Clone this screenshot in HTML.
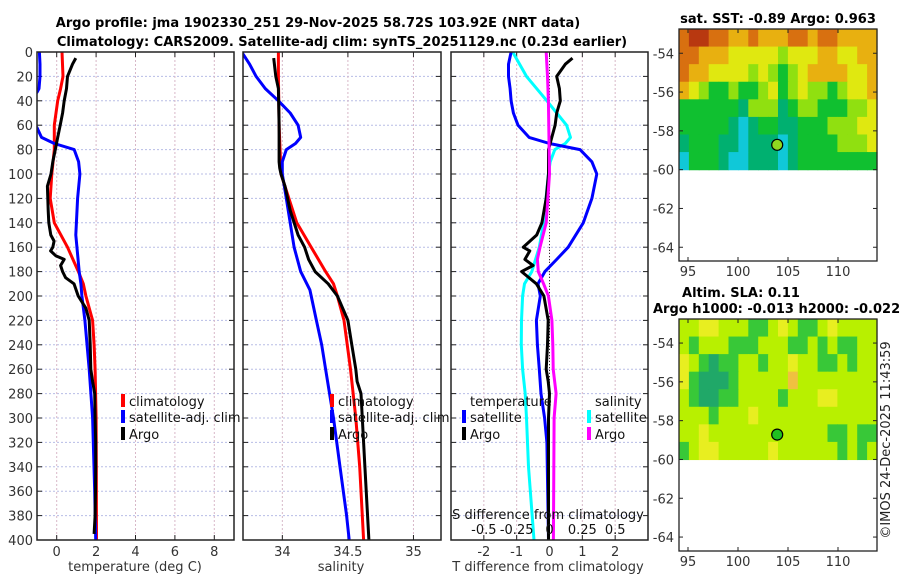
<!DOCTYPE html>
<html><head><meta charset="utf-8">
<style>
html,body{margin:0;padding:0;background:#fff;}
svg{display:block;font-family:"DejaVu Sans","Liberation Sans",sans-serif;}
</style></head>
<body>
<svg id="fig" width="900" height="580" viewBox="0 0 900 580" xmlns="http://www.w3.org/2000/svg">
<text x="318" y="27" text-anchor="middle" font-size="13" font-weight="bold">Argo profile: jma 1902330_251 29-Nov-2025 58.72S 103.92E (NRT data)</text>
<text x="342" y="46" text-anchor="middle" font-size="13" font-weight="bold">Climatology: CARS2009. Satellite-adj clim: synTS_20251129.nc (0.23d earlier)</text>
<text x="778" y="23" text-anchor="middle" font-size="13" font-weight="bold">sat. SST: -0.89 Argo: 0.963</text>
<text x="741" y="297" text-anchor="middle" font-size="13" font-weight="bold">Altim. SLA: 0.11</text>
<text x="653" y="313" font-size="13" font-weight="bold">Argo h1000: -0.013 h2000: -0.022</text>
<text transform="translate(890,440) rotate(-90)" text-anchor="middle" font-size="13" fill="#222">©IMOS 24-Dec-2025 11:43:59</text>
<g id="layer"></g>
</svg>
<script>
// ---- profile data ----
const depthTicks = [0,20,40,60,80,100,120,140,160,180,200,220,240,260,280,300,320,340,360,380,400];
const tempTicks = [0,2,4,6,8];
const salTicks = [34,34.5,35];
const salTickLabels = ["34","34.5","35"];
const tdiffTicks = [-2,-1,0,1,2];
const sdiffTicks = [-0.5,-0.25,0,0.25,0.5];
const sdiffTickLabels = ["-0.5","-0.25","0","0.25","0.5"];

const argoTDepth = [5,10,20,30,40,50,60,70,80,90,100,110,120,130,140,150,155,160,163,167,170,175,180,185,190,200,210,220,240,260,270,280,300,320,340,360,380,395];
const argoTemp   = [0.97,0.8,0.55,0.5,0.38,0.3,0.18,0.05,-0.07,-0.2,-0.29,-0.47,-0.45,-0.43,-0.4,-0.3,-0.13,-0.2,-0.31,-0.05,0.38,0.2,0.3,0.45,0.88,1.09,1.48,1.65,1.7,1.73,1.82,1.93,1.95,1.98,1.98,1.97,1.95,1.9];
const climDepth = [0,20,30,40,60,80,100,120,140,160,180,190,200,220,240,260,300,340,400];
const climTemp  = [0.27,0.32,0.2,0.05,-0.12,-0.12,-0.25,-0.33,-0.12,0.55,1.1,1.35,1.48,1.82,1.9,1.95,2.0,2.01,2.02];
const satDepth = [0,10,20,30,33,36,60,62,70,75,80,90,100,120,150,180,190,200,220,260,300,360,400];
const satTemp  = [-0.88,-0.85,-0.85,-0.9,-1.0,-1.6,-1.6,-1.0,-0.77,-0.12,0.89,1.11,1.18,1.06,0.97,1.14,1.23,1.28,1.43,1.65,1.82,1.93,1.98];

const argoSDepth = [5,20,30,60,90,95,100,110,130,150,160,170,180,190,200,220,240,260,270,280,300,340,400];
const argoSal = [33.934,33.95,33.97,33.975,33.975,33.98,33.99,34.02,34.06,34.12,34.17,34.2,34.25,34.35,34.42,34.5,34.53,34.56,34.57,34.6,34.61,34.63,34.66];
const climSDepth = [0,20,60,100,120,140,160,180,190,200,220,260,300,340,400];
const climSal = [33.97,33.97,33.975,33.99,34.05,34.11,34.22,34.33,34.39,34.42,34.47,34.52,34.56,34.59,34.62];
const satSDepth = [0,10,20,30,40,50,60,70,75,80,90,100,120,140,160,180,195,200,220,240,260,300,340,380,400];
const satSal = [33.69,33.75,33.8,33.87,33.97,34.06,34.12,34.14,34.1,34.03,34.0,34.0,34.03,34.06,34.09,34.14,34.21,34.22,34.26,34.3,34.33,34.39,34.44,34.49,34.51];

const dTDepth = [0,10,20,30,40,50,60,70,75,80,90,100,120,140,160,170,180,190,200,220,240,260,280,300,320,400];
const satTdiff = [-1.17,-1.25,-1.25,-1.2,-1.17,-1.1,-0.96,-0.62,0,0.93,1.29,1.44,1.29,1.03,0.57,0.22,-0.14,-0.35,-0.28,-0.4,-0.37,-0.31,-0.26,-0.15,-0.08,-0.03];
const argoTDDepth = [5,10,20,30,40,50,60,70,80,100,120,140,150,160,163,170,175,180,190,200,220,240,260,270,280,300,340,400];
const argoTdiff = [0.7,0.48,0.22,0.3,0.33,0.22,0.17,0.07,-0.03,-0.03,-0.1,-0.23,-0.39,-0.8,-0.6,-0.75,-0.5,-0.85,-0.4,-0.17,-0.04,-0.06,-0.1,-0.04,0,-0.03,-0.03,-0.03];
const dSDepth = [0,20,40,50,60,70,75,80,90,100,140,160,180,190,200,220,240,260,280,300,340,400];
const satSdiff = [-0.28,-0.175,-0.02,0.055,0.13,0.16,0.12,0.04,0.005,-0.008,-0.045,-0.078,-0.135,-0.19,-0.205,-0.213,-0.215,-0.205,-0.185,-0.175,-0.16,-0.118];
const argoSDepth2 = [0,20,40,100,140,160,170,180,190,200,220,240,260,280,300,400];
const argoSdiff = [-0.025,-0.015,-0.008,0,-0.025,-0.072,-0.092,-0.085,-0.045,-0.008,0.018,0.025,0.028,0.05,0.035,0.03];

// ---- map data (colour class indices per cell, rows north->south, 1 deg lon columns) ----
const mapLonTicks = [95,100,105,110];
const mapLatTicks = [-54,-56,-58,-60,-62,-64];
const sstGrid = [
 [6,7,7,6,6,5,5,6,5,5,5,6,6,5,6,6,5,5,5,5],
 [6,6,5,5,5,4,4,4,4,4,3,4,4,4,5,5,4,4,5,5],
 [6,5,5,4,4,4,4,3,4,3,2,3,4,5,5,5,5,4,4,5],
 [5,4,3,2,2,3,2,2,3,4,2,3,4,3,3,2,3,4,4,5],
 [2,2,2,2,2,2,1,3,3,3,1,2,3,3,2,2,2,3,3,4],
 [2,2,2,2,2,1,0,1,2,2,1,1,2,2,2,3,3,3,4,4],
 [1,2,2,2,1,1,0,1,1,1,0,1,2,2,2,2,3,3,3,4],
 [0,2,2,2,1,0,0,1,1,1,0,1,2,2,2,2,2,2,2,2]];
const slaGrid = [
 [3,3,4,4,3,3,3,2,2,3,4,3,2,2,3,4,3,3,3,3],
 [3,2,3,3,3,2,2,2,3,3,3,2,2,3,2,3,2,2,3,3],
 [4,3,2,1,2,2,3,3,2,3,3,4,3,3,2,2,3,2,3,3],
 [4,2,1,1,1,2,3,3,3,3,3,5,3,3,3,3,3,3,3,3],
 [3,2,1,1,2,2,3,3,3,3,2,3,3,3,4,4,3,3,3,3],
 [3,3,3,2,3,3,3,4,3,3,3,3,3,3,3,3,3,3,3,3],
 [3,3,4,3,3,3,3,3,3,3,3,3,3,3,3,2,2,3,2,2],
 [2,3,4,4,3,3,3,3,3,4,3,3,3,3,3,3,2,3,2,3]];
const argoLon = 103.92, argoLat = -58.72;

const NS="http://www.w3.org/2000/svg";
const layer=document.getElementById('layer');
function el(tag,attrs,parent){const e=document.createElementNS(NS,tag);for(const k in attrs)e.setAttribute(k,attrs[k]);(parent||layer).appendChild(e);return e;}
function txt(x,y,s,attrs,parent){const t=el('text',Object.assign({x:x,y:y,'font-size':13,fill:'#333'},attrs||{}),parent);t.textContent=s;return t;}

const Y0=52,Y1=540;
const yD=d=>Y0+(Y1-Y0)*d/400;

function panel(name,x0,x1,dmin,dmax){
  const g=el('g',{});
  
  
  const sx=v=>x0+(x1-x0)*(v-dmin)/(dmax-dmin);
  return {g,sx,x0,x1};
}
function frame(p,xt,labels,showDepth){
  const {g,sx,x0,x1}=p;
  const clipId='c'+x0;
  const cp=el('clipPath',{id:clipId},g); el('rect',{x:x0,y:Y0,width:x1-x0,height:Y1-Y0},cp);
  depthTicks.forEach(d=>{
    const l=el('line',{x1:x0,x2:x1,y1:yD(d),y2:yD(d),stroke:'#b8bde6','stroke-width':1,'stroke-dasharray':'2,2'},g);
    
    
    el('line',{x1:x0,x2:x0+5,y1:yD(d),y2:yD(d),stroke:'#222'},g);
    el('line',{x1:x1-5,x2:x1,y1:yD(d),y2:yD(d),stroke:'#222'},g);
    if(showDepth){const t=txt(33,yD(d)+5,String(d),{'text-anchor':'end'},g);}
  });
  xt.forEach((v,i)=>{
    const l=el('line',{x1:sx(v),x2:sx(v),y1:Y0,y2:Y1,stroke:'#d8b8c8','stroke-width':1,'stroke-dasharray':'2,2'},g);
    
    
    el('line',{x1:sx(v),x2:sx(v),y1:Y1,y2:Y1-5,stroke:'#222'},g);
    el('line',{x1:sx(v),x2:sx(v),y1:Y0,y2:Y0+5,stroke:'#222'},g);
    const t=txt(sx(v),556,labels[i],{'text-anchor':'middle'},g);
    
    
  });
  return clipId;
}
function line(p,clip,xs,ds,sx,color,name){
  const pts=xs.map((v,i)=>sx(v).toFixed(1)+','+yD(ds[i]).toFixed(1)).join(' ');
  const l=el('polyline',{points:pts,fill:'none',stroke:color,'stroke-width':3,'stroke-linejoin':'round','clip-path':'url(#'+clip+')'},p.g);
  
  
}
function box(p){el('rect',{x:p.x0,y:Y0,width:p.x1-p.x0,height:Y1-Y0,fill:'none',stroke:'#222','stroke-width':1.5},p.g);}
function legendItem(g,x,y,color,label,name){
  const r=el('rect',{x:x-2,y:y-7,width:4,height:13,fill:color},g);
  
  
  const t=txt(x+6,y+5,label,{fill:'#111'},g);
  
  
}

// Panel 1 temperature
const p1=panel('temperature-panel',37,234,-1,9);
let c=frame(p1,tempTicks,tempTicks.map(String),true);
line(p1,c,climTemp,climDepth,p1.sx,'#f00','climatology-temp-line');
line(p1,c,satTemp,satDepth,p1.sx,'#00f','satellite-temp-line');
line(p1,c,argoTemp,argoTDepth,p1.sx,'#000','argo-temp-line');
box(p1);
legendItem(p1.g,123,401,'#f00','climatology','legend-climatology');
legendItem(p1.g,123,417,'#00f','satellite-adj. clim','legend-satellite');
legendItem(p1.g,123,434,'#000','Argo','legend-argo');
let t=txt(135,571,'temperature (deg C)',{'text-anchor':'middle'},p1.g);



// Panel 2 salinity
const p2=panel('salinity-panel',243,441,33.7,35.21);
c=frame(p2,salTicks,salTickLabels,false);
line(p2,c,climSal,climSDepth,p2.sx,'#f00','climatology-sal-line');
line(p2,c,satSal,satSDepth,p2.sx,'#00f','satellite-sal-line');
line(p2,c,argoSal,argoSDepth,p2.sx,'#000','argo-sal-line');
box(p2);
legendItem(p2.g,332,401,'#f00','climatology','legend-climatology-sal');
legendItem(p2.g,332,417,'#00f','satellite-adj. clim','legend-satellite-sal');
legendItem(p2.g,332,434,'#000','Argo','legend-argo-sal');
t=txt(341,571,'salinity',{'text-anchor':'middle'},p2.g);



// Panel 3 differences
const p3=panel('difference-panel',451,648,-3,3);
c=frame(p3,tdiffTicks,tdiffTicks.map(String),false);
const ss=v=>p3.sx(v*4);
el('line',{x1:p3.sx(0),x2:p3.sx(0),y1:Y0,y2:Y1,stroke:'#333','stroke-dasharray':'1,2'},p3.g);
line(p3,c,satSdiff,dSDepth,ss,'#0ff','satellite-sal-diff-line');
line(p3,c,satTdiff,dTDepth,p3.sx,'#00f','satellite-temp-diff-line');
line(p3,c,argoTdiff,argoTDDepth,p3.sx,'#000','argo-temp-diff-line');
line(p3,c,argoSdiff,argoSDepth2,ss,'#f0f','argo-sal-diff-line');
box(p3);
t=txt(470,406,'temperature',{fill:'#111'},p3.g);


t=txt(595,406,'salinity',{fill:'#111'},p3.g);


legendItem(p3.g,464,417,'#00f','satellite','legend-temp-satellite');
legendItem(p3.g,464,434,'#000','Argo','legend-temp-argo');
legendItem(p3.g,589,417,'#0ff','satellite','legend-sal-satellite');
legendItem(p3.g,589,434,'#f0f','Argo','legend-sal-argo');
t=txt(548,519,'S difference from climatology',{'text-anchor':'middle',fill:'#111'},p3.g);


sdiffTicks.forEach((v,i)=>{const tt=txt(ss(v),534,sdiffTickLabels[i],{'text-anchor':'middle',fill:'#111'},p3.g);
  
  });
t=txt(548,571,'T difference from climatology',{'text-anchor':'middle'},p3.g);



// Maps
function map(name,top,bottom,latTop,grid,colors,dotColor){
  const g=el('g',{});
  
  
  const X0=679,X1=877,lon0=94.1,lon1=113.9;
  const latBot=latTop-(bottom-top)/19.4;
  const mx=v=>X0+(X1-X0)*(v-lon0)/(lon1-lon0);
  const my=v=>top+(bottom-top)*(latTop-v)/(latTop-latBot);
  const nr=grid.length, nc=grid[0].length;
  const rh=(latTop-(-60))/nr, cw=(lon1-lon0)/nc;
  grid.forEach((row,r)=>row.forEach((v,ci)=>{
    const xa=mx(lon0+ci*cw), xb=mx(lon0+(ci+1)*cw), ya=my(latTop-r*rh), yb=my(latTop-(r+1)*rh);
    const rc=el('rect',{x:xa,y:ya,width:xb-xa+0.6,height:yb-ya+0.6,fill:colors[v]},g);
    
    
  }));
  el('rect',{x:X0,y:top,width:X1-X0,height:bottom-top,fill:'none',stroke:'#222','stroke-width':1.3},g);
  mapLatTicks.forEach(v=>{el('line',{x1:X0,x2:X0+4,y1:my(v),y2:my(v),stroke:'#222'},g);
    el('line',{x1:X1-4,x2:X1,y1:my(v),y2:my(v),stroke:'#222'},g);
    const tt=txt(674,my(v)+5,String(v),{'text-anchor':'end'},g);
    
    });
  mapLonTicks.forEach(v=>{el('line',{x1:mx(v),x2:mx(v),y1:bottom,y2:bottom-4,stroke:'#222'},g);
    el('line',{x1:mx(v),x2:mx(v),y1:top,y2:top+4,stroke:'#222'},g);
    const tt=txt(mx(v),bottom+15,String(v),{'text-anchor':'middle'},g);
    
    });
  const d=el('circle',{cx:mx(argoLon),cy:my(argoLat),r:5.5,fill:dotColor,stroke:'#000','stroke-width':1.2},g);
  
  
}
map('sst-map',29,261,-52.75,sstGrid,['#10c8d8','#00b070','#10c030','#90e010','#e0e810','#e8b010','#d87010','#b83810'],'#90d820');
map('sla-map',319,551,-52.76,slaGrid,['#10a070','#20a868','#38c838','#b8f000','#e8ee20','#f0c040'],'#20c020');
</script>
</body></html>
